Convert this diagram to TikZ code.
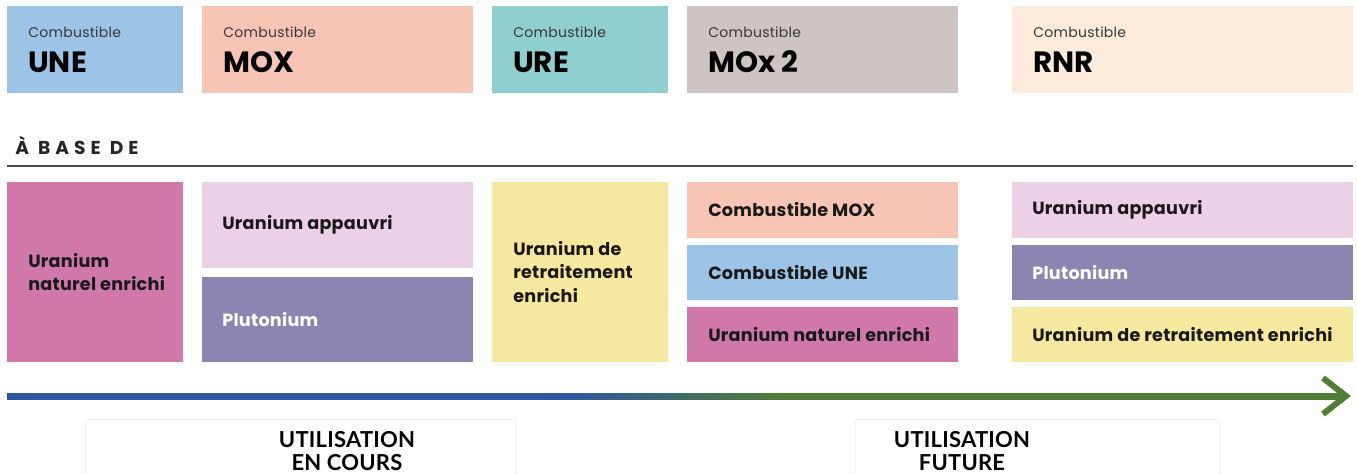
\documentclass[tikz,border=0pt]{standalone}
\usepackage{fontspec}
\setmainfont{Poppins}
\newfontfamily\stagefont{Lato}
\definecolor{une}{HTML}{9DC3E6}
\definecolor{mox}{HTML}{F8C4B6}
\definecolor{ure}{HTML}{8FCFD0}
\definecolor{moxb}{HTML}{CEC4C2}
\definecolor{rnr}{HTML}{FCEADA}
\definecolor{nat}{HTML}{D078AA}
\definecolor{depl}{HTML}{ECD0E6}
\definecolor{plu}{HTML}{8D85B1}
\definecolor{repr}{HTML}{F7E8A0}
\definecolor{tlblue}{HTML}{2F56A0}
\definecolor{tlgreen}{HTML}{4E7E37}
\definecolor{rule}{HTML}{4A4A4A}
\pgfdeclarehorizontalshading{timeline}{100bp}{color(0bp)=(tlblue); color(46bp)=(tlblue); color(54bp)=(tlgreen); color(100bp)=(tlgreen)}
\begin{document}
\begin{tikzpicture}[x=0.75pt,y=-0.75pt,
  tile/.style={fill=#1, draw=none, inner sep=0pt, outer sep=0pt, anchor=north west},
  kind/.style={font=\fontsize{10.5}{12}\selectfont\addfontfeatures{LetterSpace=2}, text=black!78, anchor=base west, inner sep=0pt},
  fuelname/.style={font=\fontsize{22}{26}\selectfont\bfseries, anchor=base west, inner sep=0pt},
  comp/.style={font=\fontsize{13.2}{17.5}\selectfont\bfseries\addfontfeatures{LetterSpace=1.5}, text=black!90, anchor=west, align=left, inner sep=0pt},
  stage/.style={font=\stagefont\fontsize{16.5}{17.25}\selectfont\bfseries\addfontfeatures{LetterSpace=1}, align=center, inner sep=0pt},
  labelbox/.style={draw=black!5, fill=white, inner sep=0pt, anchor=north west}]
\useasboundingbox (0,0) rectangle (1357,474);

% fuel families
\node[tile=une,  minimum width=132pt,    minimum height=65.25pt] (une)  at (7,6) {};
\node[tile=mox,  minimum width=203.25pt, minimum height=65.25pt] (mox)  at (202,6) {};
\node[tile=ure,  minimum width=132pt,    minimum height=65.25pt] (ure)  at (492,6) {};
\node[tile=moxb, minimum width=203.25pt, minimum height=65.25pt] (mox2) at (687,6) {};
\node[tile=rnr,  minimum width=255.75pt, minimum height=65.25pt] (rnr)  at (1012,6) {};
\foreach \f/\n in {une/UNE, mox/MOX, ure/URE, mox2/MOx 2, rnr/RNR}{
  \node[kind] (\f-k) at ([shift={(21,32)}]\f.north west) {Combustible};
  \node[fuelname] (\f-n) at ([shift={(21,67)}]\f.north west) {\n};
}

% section heading
\node[anchor=base west, inner sep=0pt, font=\fontsize{14}{16}\selectfont\bfseries\addfontfeatures{LetterSpace=27}, text=black!85] (base) at (15,155) {À BASE DE};
\coordinate (ruleL) at (7,166);
\coordinate (ruleR) at (1353,166);
\draw[rule, line width=1.5pt] (ruleL) -- (ruleR);

% composition of each fuel
\node[tile=nat,  minimum width=132pt,    minimum height=135pt]   (c-nat)  at (7,182) {};
\node[tile=depl, minimum width=203.25pt, minimum height=64.5pt]  (c-dep)  at (202,182) {};
\node[tile=plu,  minimum width=203.25pt, minimum height=63.75pt] (c-plu)  at (202,277) {};
\node[tile=repr, minimum width=132pt,    minimum height=135pt]   (c-rep)  at (492,182) {};
\node[tile=mox,  minimum width=203.25pt, minimum height=42pt]    (m-mox)  at (687,182) {};
\node[tile=une,  minimum width=203.25pt, minimum height=41.25pt] (m-une)  at (687,245) {};
\node[tile=nat,  minimum width=203.25pt, minimum height=41.25pt] (m-nat)  at (687,307) {};
\node[tile=depl, minimum width=255.75pt, minimum height=42pt]    (r-dep)  at (1012,182) {};
\node[tile=plu,  minimum width=255.75pt, minimum height=41.25pt] (r-plu)  at (1012,245) {};
\node[tile=repr, minimum width=255.75pt, minimum height=41.25pt] (r-rep)  at (1012,307) {};

\node[comp] (t-nat) at ([xshift=15.75pt]c-nat.west) {Uranium\\naturel enrichi};
\node[comp] (t-dep) at ([xshift=15pt]c-dep.west) {Uranium appauvri};
\node[comp, text=white] (t-plu) at ([xshift=15pt]c-plu.west) {Plutonium};
\node[comp] (t-rep) at ([xshift=15.75pt]c-rep.west) {Uranium de\\retraitement\\enrichi};
\node[comp] (tm-mox) at ([xshift=15.75pt]m-mox.west) {Combustible MOX};
\node[comp] (tm-une) at ([xshift=15.75pt]m-une.west) {Combustible UNE};
\node[comp] (tm-nat) at ([xshift=15.75pt]m-nat.west) {Uranium naturel enrichi};
\node[comp] (tr-dep) at ([xshift=15pt]r-dep.west) {Uranium appauvri};
\node[comp, text=white] (tr-plu) at ([xshift=15pt]r-plu.west) {Plutonium};
\node[comp] (tr-rep) at ([xshift=15pt]r-rep.west) {Uranium de retraitement enrichi};

% time line
\coordinate (t0) at (7,396);
\coordinate (tip) at (1346,396);
\shade[shading=timeline] (7,393) rectangle (1342,399);
\draw[tlgreen, line width=4.5pt, line join=miter] (1323,378) -- (tip) -- (1323,414);

% stages
\node[labelbox, minimum width=322.5pt, minimum height=45pt] (now-box) at (85,419) {};
\node[labelbox, minimum width=273.75pt, minimum height=45pt] (fut-box) at (855,419) {};
\node[stage] (now) at (347,451) {UTILISATION\\EN COURS};
\node[stage] (fut) at (962,451) {UTILISATION\\FUTURE};
\end{tikzpicture}
\end{document}
